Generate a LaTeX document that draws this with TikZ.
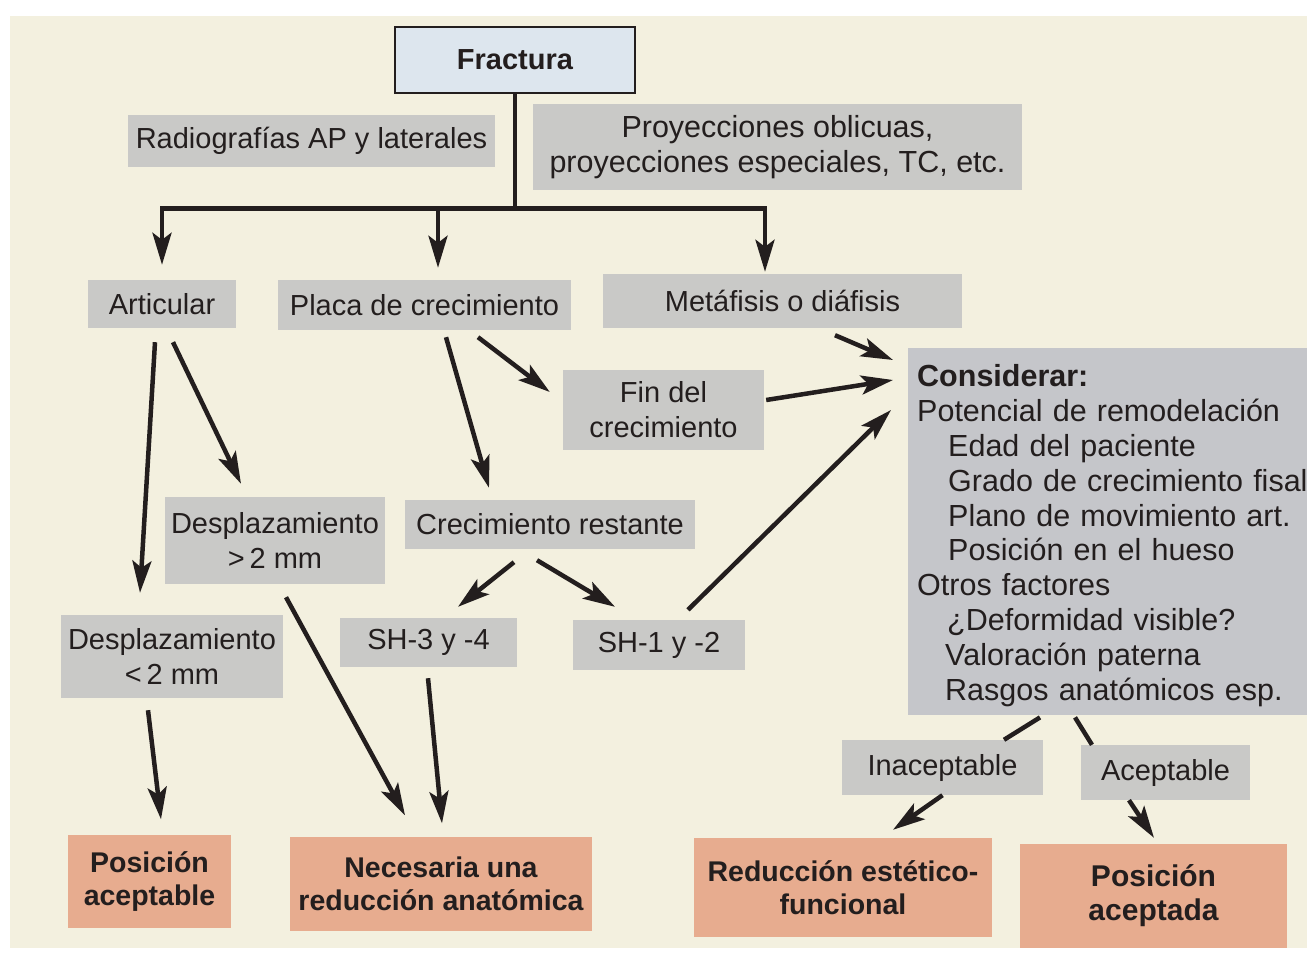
\documentclass[tikz,border=0pt]{standalone}
\usepackage{fontspec}
\setmainfont{Liberation Sans}
\usetikzlibrary{arrows.meta,calc}
\definecolor{cream}{RGB}{243,240,223}
\definecolor{boxgray}{RGB}{201,201,199}
\definecolor{consgray}{RGB}{197,198,202}
\definecolor{salmon}{RGB}{231,172,143}
\definecolor{fracblue}{RGB}{221,230,238}
\definecolor{ink}{RGB}{35,30,30}
\begin{document}
\begin{tikzpicture}[x=1pt,y=-1pt,
  gbox/.style={fill=boxgray, inner sep=0pt, align=center, font=\fontsize{29}{35}\selectfont, text=ink},
  obox/.style={fill=salmon, inner sep=0pt, align=center, font=\fontsize{28.5}{33}\selectfont\bfseries, text=ink},
  arr/.style={line width=4.5pt, draw=ink, -{Stealth[length=32pt,width=19pt,inset=7pt]}},
  ln/.style={line width=4.5pt, draw=ink},
]
\fill[white] (0,0) rectangle (1307,972);
\fill[cream] (10,16) rectangle (1307,948);
\useasboundingbox (0,0) rectangle (1307,972);

% nodes
\node[draw=ink, line width=1.2pt, fill=fracblue, minimum width=240pt, minimum height=66pt, inner sep=0pt, font=\fontsize{29}{35}\selectfont\bfseries, text=ink] (frac) at (515,60) {Fractura};
\node[gbox, minimum width=367pt, minimum height=52pt] (radio) at (311.5,141) {Radiografías AP y laterales};
\node[gbox, minimum width=489pt, minimum height=86pt, font=\fontsize{30.5}{35}\selectfont] (proy) at (777.5,147) {Proyecciones oblicuas,\\proyecciones especiales, TC, etc.};
\node[gbox, minimum width=148pt, minimum height=48pt] (art) at (162,304) {Articular};
\node[gbox, minimum width=293pt, minimum height=50pt] (placa) at (424.5,305) {Placa de crecimiento};
\node[gbox, minimum width=359pt, minimum height=54pt] (meta) at (782.5,301) {Metáfisis o diáfisis};
\node[gbox, minimum width=201pt, minimum height=80pt] (fin) at (663.5,410) {Fin del\\crecimiento};
\node[gbox, minimum width=220pt, minimum height=87pt] (dgt) at (275,540.5) {Desplazamiento\\>\,2 mm};
\node[gbox, minimum width=290pt, minimum height=49pt] (crec) at (550,524.5) {Crecimiento restante};
\node[gbox, minimum width=222pt, minimum height=83pt] (dlt) at (172,656.5) {Desplazamiento\\<\,2 mm};
\node[gbox, minimum width=177pt, minimum height=49pt] (sh34) at (428.5,642.5) {SH-3 y -4};
\node[gbox, minimum width=172pt, minimum height=50pt] (sh12) at (659,645) {SH-1 y -2};
\node[gbox, minimum width=201pt, minimum height=55pt] (inac) at (942.5,767.5) {Inaceptable};
\node[gbox, minimum width=169pt, minimum height=55pt] (acep) at (1165.5,772.5) {Aceptable};
\node[fill=consgray, anchor=north west, minimum width=420pt, minimum height=367pt, inner xsep=9pt, inner ysep=0pt, text width=402pt, align=left, font=\fontsize{30.5}{34.8}\selectfont, text=ink] (cons) at (908,348) {\rule{0pt}{30pt}{\bfseries Considerar:}\\
Potencial de remodelación\\
\hspace*{31pt}Edad del paciente\\
\hspace*{31pt}Grado de crecimiento fisal\\
\hspace*{31pt}Plano de movimiento art.\\
\hspace*{31pt}Posición en el hueso\\
Otros factores\\
\hspace*{30pt}¿Deformidad visible?\\
\hspace*{28pt}Valoración paterna\\
\hspace*{28pt}Rasgos anatómicos esp.};
\node[obox, minimum width=163pt, minimum height=93pt] (posa) at (149.5,881) {Posición\\aceptable};
\node[obox, minimum width=302pt, minimum height=94pt] (nec) at (441,883.5) {Necesaria una\\reducción anatómica};
\node[obox, minimum width=298pt, minimum height=99pt] (red) at (843,887.5) {Reducción estético-\\funcional};
\node[obox, minimum width=267pt, minimum height=104pt, font=\fontsize{30}{34}\selectfont\bfseries] (posd) at (1153.5,896) {Posición\\aceptada};

% trunk
\draw[ln] (frac.south) -- ++(0,115) coordinate (j);
\path ([shift={(0,-15)}]art.north) coordinate (ae)
      ([shift={(13.5,-12)}]placa.north) coordinate (pe)
      ([shift={(-17.5,-2)}]meta.north) coordinate (me);
\draw[arr] (j) -| (ae);
\draw[arr] (j) -| (me);
\draw[arr] (pe |- j) -- (pe);

% diagonal connectors
\draw[arr] ([shift={(-7,14)}]art.south) -- ([shift={(-32,-22)}]dlt.north);
\draw[arr] ([shift={(11,14)}]art.south) -- ([shift={(-34,-13)}]dgt.north);
\draw[arr] ([shift={(21.5,7)}]placa.south) -- ([shift={(-61,-12)}]crec.north);
\draw[arr] ([shift={(53.5,7)}]placa.south) -- ([shift={(-13,-18)}]fin.west);
\draw[arr] ([shift={(52.5,7)}]meta.south) -- ([shift={(-15,12)}]cons.north west);
\draw[arr] ([shift={(2,-10)}]fin.east) -- ([shift={(-15,32)}]cons.north west);
\draw[arr] ([shift={(29,-10)}]sh12.north) -- ([shift={(-17,62)}]cons.north west);
\draw[arr] ([shift={(-36,13)}]crec.south) -- ([shift={(29.5,-11)}]sh34.north);
\draw[arr] ([shift={(-13,11)}]crec.south) -- ([shift={(-44,-13)}]sh12.north);
\draw[arr] ([shift={(11,13)}]dgt.south) -- ([shift={(-36,-21)}]nec.north);
\draw[arr] ([shift={(-0.5,11)}]sh34.south) -- ([shift={(1,-13)}]nec.north);
\draw[arr] ([shift={(-24,12)}]dlt.south) -- ([shift={(11.5,-15)}]posa.north);

\draw[ln] ([shift={(132,2)}]cons.south west) -- ([shift={(61.5,0)}]inac.north);
\draw[arr] (inac.south) -- ([shift={(50,-8)}]red.north);
\draw[ln] ([shift={(167,2)}]cons.south west) -- ([shift={(-73.5,0)}]acep.north);
\draw[arr] ([shift={(-36.5,0)}]acep.south) -- ([shift={(0.5,-6)}]posd.north);
\end{tikzpicture}
\end{document}
